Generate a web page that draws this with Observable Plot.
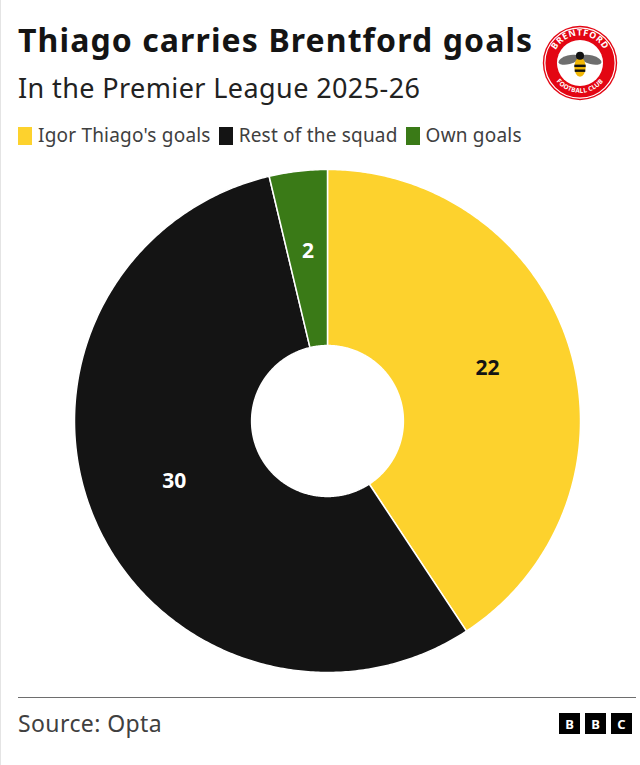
<!DOCTYPE html>
<html>
<head>
<meta charset="utf-8">
<script src="https://cdn.jsdelivr.net/npm/d3@7"></script>
<script src="https://cdn.jsdelivr.net/npm/@observablehq/plot@0.6"></script>
<style>
  html, body { margin: 0; padding: 0; background: #fff; }
  body { width: 640px; height: 765px; position: relative; overflow: hidden; font-family: "Noto Sans", sans-serif; }
  #edge { position: absolute; left: 0; top: 0; width: 1px; height: 765px; background: #e4e4e4; }
  #title { position: absolute; left: 18px; top: 24px; font-size: 32px; line-height: 1; font-weight: 700; color: #141414; white-space: nowrap; letter-spacing: 1.1px; }
  #subtitle { position: absolute; left: 18px; top: 74px; font-size: 27px; line-height: 1; color: #222; white-space: nowrap; letter-spacing: 0.4px; }
  #legend { position: absolute; left: 18px; top: 126px; font-size: 19px; line-height: 1; color: #404040; display: flex; align-items: center; white-space: nowrap; letter-spacing: 0.2px; }
  #legend .sw { width: 14px; height: 18px; display: inline-block; margin-right: 6px; }
  #legend .it { display: flex; align-items: center; margin-right: 8px; }
  #chart { position: absolute; left: 0; top: 155px; }
  #rule { position: absolute; left: 18px; top: 697px; width: 618px; height: 1px; background: #6e6e6e; }
  #source { position: absolute; left: 18px; top: 712px; font-size: 23px; line-height: 1; color: #404040; letter-spacing: 0.4px; }
  #bbc { position: absolute; left: 559px; top: 713px; display: flex; }
  #bbc div { width: 21px; height: 21px; background: #000; color: #fff; font: bold 13px "Noto Sans", sans-serif; display: flex; align-items: center; justify-content: center; margin-right: 5px; }
  #logo { position: absolute; left: 542px; top: 25px; }
</style>
</head>
<body>
<div id="edge"></div>
<div id="title">Thiago carries Brentford goals</div>
<div id="subtitle">In the Premier League 2025-26</div>
<div id="legend"></div>
<svg id="logo" width="76" height="76" viewBox="0 0 94 94">
  <defs>
    <path id="arcTop" d="M 13 47 A 34 34 0 0 1 81 47"/>
    <path id="arcBot" d="M 8 47 A 39 39 0 0 0 86 47"/>
  </defs>
  <circle cx="47" cy="47" r="46" fill="#e30613"/>
  <circle cx="47" cy="47" r="43.5" fill="none" stroke="#fff" stroke-width="1.5"/>
  <circle cx="47" cy="47" r="28.5" fill="#fff"/>
  <text font-size="11" font-weight="700" fill="#fff" font-family="Noto Sans, sans-serif" letter-spacing="0.8"><textPath href="#arcTop" startOffset="50%" text-anchor="middle">BRENTFORD</textPath></text>
  <text font-size="8" font-weight="700" fill="#fff" font-family="Noto Sans, sans-serif" letter-spacing="0.5" dy="-2"><textPath href="#arcBot" startOffset="50%" text-anchor="middle">FOOTBALL CLUB</textPath></text>
  <ellipse cx="33" cy="43" rx="13" ry="5.5" fill="#6e6e6e" transform="rotate(-15 33 43)"/>
  <ellipse cx="61" cy="43" rx="13" ry="5.5" fill="#6e6e6e" transform="rotate(15 61 43)"/>
  <ellipse cx="47" cy="52" rx="7" ry="12" fill="#f2b705"/>
  <rect x="40" y="49" width="14" height="3" fill="#111"/>
  <rect x="40.5" y="55" width="13" height="3" fill="#111"/>
  <circle cx="47" cy="38" r="5" fill="#111"/>
</svg>
<div id="chart"></div>
<div id="rule"></div>
<div id="source">Source: Opta</div>
<div id="bbc"><div>B</div><div>B</div><div>C</div></div>
<script>
// ---- data ----
const categories = ["Igor Thiago's goals", "Rest of the squad", "Own goals"];
const goals = [22, 30, 2];
const colors = ["#fdd22d", "#141414", "#3a7a17"];
const labelColors = ["#141414", "#ffffff", "#ffffff"];

// legend
const leg = document.getElementById("legend");
categories.forEach((c, i) => {
  const it = document.createElement("div");
  it.className = "it";
  it.innerHTML = `<span class="sw" style="background:${colors[i]}"></span><span>${c}</span>`;
  leg.appendChild(it);
});

// build donut geometry in data (unit) space from values
const inner = 0.30;
const outer = 1.0;
const pie = d3.pie().sort(null).value(d => d.value)(categories.map((c, i) => ({cat: c, value: goals[i]})));
const pts = [];
const labels = [];
pie.forEach((p, i) => {
  const n = Math.max(8, Math.ceil((p.endAngle - p.startAngle) / 0.01));
  const ring = [];
  for (let k = 0; k <= n; k++) {
    const a = p.startAngle + (p.endAngle - p.startAngle) * k / n;
    ring.push([outer * Math.sin(a), outer * Math.cos(a)]);
  }
  for (let k = n; k >= 0; k--) {
    const a = p.startAngle + (p.endAngle - p.startAngle) * k / n;
    ring.push([inner * Math.sin(a), inner * Math.cos(a)]);
  }
  ring.forEach(([x, y]) => pts.push({cat: p.data.cat, x, y}));
  const mid = (p.startAngle + p.endAngle) / 2;
  const lr = 0.66;
  labels.push({cat: p.data.cat, x: lr * Math.sin(mid), y: lr * Math.cos(mid), text: String(p.data.value), color: labelColors[i]});
});

const chart = Plot.plot({
  width: 640,
  height: 535,
  marginLeft: 74,
  marginRight: 60,
  marginTop: 14,
  marginBottom: 18,
  x: {domain: [-1, 1], axis: null},
  y: {domain: [-1, 1], axis: null},
  color: {domain: categories, range: colors},
  style: {background: "transparent"},
  marks: [
    Plot.line(pts, {x: "x", y: "y", z: "cat", fill: "cat", stroke: "#fff", strokeWidth: 1.5, curve: "linear-closed"}),
    Plot.text(labels, {x: "x", y: "y", dy: -5, text: "text", fill: "color", fontSize: 21, fontWeight: 700, fontFamily: "Noto Sans, sans-serif"})
  ]
});
document.getElementById("chart").appendChild(chart);
</script>
</body>
</html>
